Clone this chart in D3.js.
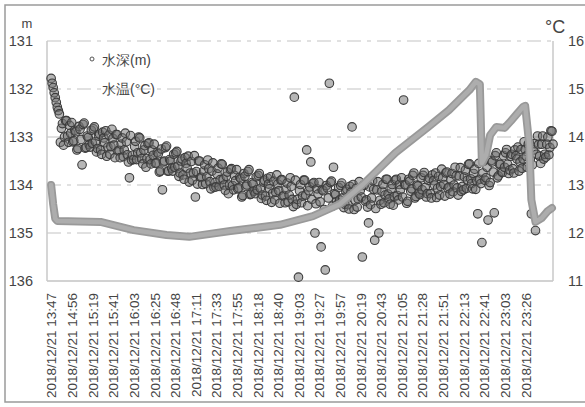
<!DOCTYPE html>
<html>
<head>
<meta charset="utf-8">
<script src="https://cdn.jsdelivr.net/npm/d3@7"></script>
<style>
  body { margin: 0; background: #fff; }
  text { font-family: "Liberation Sans", Arial, sans-serif; fill: #444; }
</style>
</head>
<body>
<svg id="chart" width="585" height="407"></svg>
<script>
"use strict";

// category labels (every 20th sample)
const timeLabels = ["13:47", "14:56", "15:19", "15:41", "16:03", "16:25", "16:48", "17:11",
  "17:33", "17:55", "18:18", "18:40", "19:03", "19:27", "19:57", "20:19", "20:43", "21:05",
  "21:28", "21:51", "22:13", "22:41", "23:03", "23:26"];
const labelStep = 20;

const depthTicks = [131, 132, 133, 134, 135, 136];
const tempTicks = [11, 12, 13, 14, 15, 16];

// water depth (m), even samples
const depthA = [
  131.78, 131.97, 132.18, 132.38, 132.52, 132.82, 133.17, 132.66, 132.98, 132.76,
  132.70, 133.08, 132.89, 133.24, 132.84, 133.58, 132.71, 133.22, 133.01, 133.21,
  133.13, 132.79, 133.31, 132.98, 133.27, 132.90, 133.12, 133.40, 132.96, 133.20,
  133.03, 133.43, 132.95, 133.28, 133.15, 133.41, 132.92, 133.37, 133.85, 133.48,
  133.47, 133.09, 133.33, 133.02, 133.45, 133.27, 133.63, 133.14, 133.47, 133.27,
  133.15, 133.54, 133.35, 133.71, 134.10, 133.50, 133.19, 133.71, 133.50, 133.71,
  133.63, 133.30, 133.82, 133.50, 133.79, 133.43, 133.65, 133.94, 133.51, 133.75,
  134.25, 133.98, 133.50, 133.84, 133.71, 133.97, 133.48, 133.93, 133.71, 134.05,
  134.04, 133.65, 133.89, 133.57, 134.00, 133.82, 134.18, 133.68, 134.01, 133.80,
  133.68, 134.06, 133.87, 134.22, 133.82, 134.00, 133.68, 134.19, 133.98, 134.18,
  134.10, 133.76, 134.28, 133.94, 134.23, 133.86, 134.08, 134.36, 133.92, 134.15,
  133.98, 134.38, 133.89, 134.22, 134.09, 134.35, 133.85, 134.30, 132.17, 134.40,
  135.92, 133.99, 134.23, 133.90, 133.27, 134.12, 133.52, 133.97, 135.00, 134.08,
  133.95, 135.29, 134.12, 135.77, 134.06, 131.88, 133.92, 133.63, 134.20, 134.40,
  134.31, 133.96, 134.47, 134.13, 134.41, 134.03, 132.79, 134.51, 134.07, 134.29,
  134.11, 135.50, 134.00, 134.31, 134.79, 134.41, 133.91, 135.15, 134.10, 135.00,
  134.40, 133.99, 134.21, 133.88, 134.29, 134.08, 134.42, 133.90, 134.22, 133.99,
  133.85, 132.23, 134.00, 134.34, 133.92, 134.08, 133.75, 134.24, 134.02, 134.20,
  134.10, 133.74, 134.25, 133.90, 134.18, 133.79, 134.00, 134.26, 133.82, 134.03,
  133.85, 134.23, 133.73, 134.04, 133.89, 134.14, 133.63, 134.06, 133.81, 134.13,
  134.10, 133.69, 133.90, 133.56, 133.97, 133.76, 134.09, 134.60, 133.88, 135.20,
  133.50, 133.85, 134.73, 133.95, 133.52, 134.58, 133.33, 133.81, 133.57, 133.74,
  133.63, 133.26, 133.76, 133.40, 133.66, 133.27, 133.46, 133.71, 133.26, 133.46,
  133.26, 133.63, 133.12, 134.60, 133.27, 134.95, 132.98, 133.40, 133.15, 133.46,
  133.42, 133.00, 133.22, 132.88
];

// water depth (m), odd samples
const depthB = [
  131.88, 132.08, 132.28, 132.45, 133.11, 132.72, 133.00, 132.66, 133.11, 132.92,
  133.10, 132.86, 133.27, 132.78, 133.05, 132.74, 133.23, 132.98, 133.16, 132.86,
  132.83, 133.10, 133.24, 132.94, 133.36, 133.02, 132.87, 133.21, 133.36, 132.84,
  133.17, 132.95, 133.29, 133.43, 133.02, 133.27, 133.10, 133.52, 132.97, 133.38,
  133.20, 133.47, 133.00, 133.33, 133.56, 133.18, 133.45, 133.12, 133.56, 133.38,
  133.55, 133.32, 133.73, 133.25, 133.52, 133.22, 133.71, 133.47, 133.65, 133.36,
  133.33, 133.61, 133.75, 133.46, 133.88, 133.55, 133.40, 133.75, 133.90, 133.39,
  133.72, 133.50, 133.84, 133.99, 133.58, 133.83, 133.66, 134.08, 133.54, 133.95,
  133.77, 134.03, 133.56, 133.88, 134.11, 133.73, 134.00, 133.66, 134.10, 133.91,
  134.08, 133.84, 134.25, 133.76, 134.03, 133.72, 134.20, 133.95, 134.13, 133.83,
  133.80, 134.07, 134.21, 133.90, 134.32, 133.98, 133.83, 134.17, 134.31, 133.79,
  134.12, 133.90, 134.23, 134.37, 133.96, 134.21, 134.03, 134.45, 133.90, 134.30,
  134.12, 134.37, 133.90, 134.21, 134.43, 134.04, 134.30, 133.95, 134.39, 134.19,
  134.35, 134.10, 134.51, 134.01, 134.27, 133.95, 134.44, 134.18, 134.35, 134.05,
  134.01, 134.27, 134.40, 134.09, 134.50, 134.15, 133.99, 134.32, 134.46, 133.93,
  134.25, 134.01, 134.34, 134.46, 134.04, 134.27, 134.09, 134.49, 133.93, 134.32,
  134.13, 134.37, 133.88, 134.19, 134.40, 133.99, 134.24, 133.88, 134.31, 134.10,
  134.25, 133.99, 134.38, 133.88, 134.13, 133.80, 134.27, 134.00, 134.17, 133.85,
  133.80, 134.05, 134.18, 133.86, 134.27, 133.91, 133.75, 134.07, 134.21, 133.67,
  133.99, 133.75, 134.07, 134.19, 133.76, 134.00, 133.81, 134.21, 133.64, 134.03,
  133.83, 134.07, 133.57, 133.87, 134.08, 133.67, 133.91, 133.55, 133.97, 133.75,
  133.90, 133.63, 134.01, 133.49, 133.73, 133.39, 133.85, 133.57, 133.72, 133.39,
  133.33, 133.57, 133.69, 133.36, 133.75, 133.39, 133.21, 133.52, 133.65, 133.10,
  133.40, 133.15, 133.46, 133.58, 133.14, 133.36, 133.16, 133.55, 132.98, 133.36,
  133.15, 133.37, 132.87, 133.15
];

// water temperature (°C) at sample indices
const tempIdx = [0, 2, 4, 6, 48, 80, 112, 134, 174, 222, 254, 280, 302, 334, 366, 386, 406,
  412, 416, 418, 422, 426, 432, 440, 446, 452, 458, 460, 464, 466, 470, 476, 482, 486];
const tempVals = [13.0, 12.6, 12.3, 12.25, 12.23, 12.06, 11.96, 11.92, 12.04, 12.17, 12.35,
  12.6, 13.0, 13.67, 14.21, 14.56, 14.98, 15.15, 15.1, 13.46, 13.62, 14.04, 14.21, 14.19,
  14.33, 14.48, 14.63, 14.65, 13.83, 12.69, 12.23, 12.31, 12.46, 12.52];

(function()
{
  const svg = d3.select("#chart");
  const plotL = 47, plotR = 553, plotT = 41, plotB = 281;

  //samples alternate between the two depth lists
  const depthVals = depthA.flatMap((d, i) => [d, depthB[i]]);

  // scanned frame
  svg.append("rect")
    .attr("x", 5).attr("y", 5).attr("width", 600).attr("height", 397)
    .attr("fill", "none").attr("stroke", "#9a9a9a").attr("stroke-width", 1.5);

  const x = d3.scaleLinear().domain([-4, depthVals.length - 1]).range([plotL, plotR]);
  const yDepth = d3.scaleLinear().domain([131, 136]).range([plotT, plotB]);
  const yTemp = d3.scaleLinear().domain([11, 16]).range([plotB, plotT]);

  //gridlines
  svg.append("g")
    .selectAll("line")
    .data(depthTicks.slice(0, -1))
    .join("line")
    .attr("x1", plotL).attr("x2", plotR)
    .attr("y1", d => yDepth(d)).attr("y2", d => yDepth(d))
    .attr("stroke", "#c4c4c4").attr("stroke-width", 1.2)
    .attr("stroke-dasharray", "14,6,4,6");

  svg.append("line")
    .attr("x1", plotL).attr("x2", plotR).attr("y1", plotB).attr("y2", plotB)
    .attr("stroke", "#d2d2d2").attr("stroke-width", 2);
  svg.append("line")
    .attr("x1", plotL).attr("x2", plotL).attr("y1", plotT).attr("y2", plotB)
    .attr("stroke", "#c8c8c8").attr("stroke-width", 1.5);
  svg.append("line")
    .attr("x1", plotR).attr("x2", plotR).attr("y1", plotT).attr("y2", plotB)
    .attr("stroke", "#c8c8c8").attr("stroke-width", 1.5);

  //axes
  const axL = svg.append("g")
    .attr("transform", `translate(${plotL},0)`)
    .call(d3.axisLeft(yDepth).tickValues(depthTicks).tickSize(0).tickPadding(14)
      .tickFormat(d3.format("d")));
  const axR = svg.append("g")
    .attr("transform", `translate(${plotR},0)`)
    .call(d3.axisRight(yTemp).tickValues(tempTicks).tickSize(0).tickPadding(15)
      .tickFormat(d3.format("d")));
  for (let ax of [axL, axR])
  {
    ax.select(".domain").remove();
    ax.selectAll("text").attr("font-size", 14.5).attr("fill", "#444")
      .attr("font-family", "Liberation Sans, Arial, sans-serif");
  }

  const labelIdx = timeLabels.map((d, i) => i * labelStep);
  const axB = svg.append("g")
    .attr("transform", `translate(0,${plotB})`)
    .call(d3.axisBottom(x).tickValues(labelIdx).tickSize(0)
      .tickFormat((d, i) => "2018/12/21 " + timeLabels[i]));
  axB.select(".domain").remove();
  axB.selectAll("text")
    .attr("font-size", 13.5).attr("fill", "#444")
    .attr("font-family", "Liberation Sans, Arial, sans-serif")
    .attr("text-anchor", "end")
    .attr("transform", "rotate(-90)")
    .attr("x", -12).attr("y", 0).attr("dy", "0.36em");

  //units
  svg.append("text").attr("x", 27).attr("y", 28).attr("text-anchor", "middle")
    .attr("font-size", 13).text("m");
  svg.append("text").attr("x", 545).attr("y", 33)
    .attr("font-size", 18).text("°C");

  //depth scatter
  svg.append("g")
    .selectAll("circle")
    .data(depthVals)
    .join("circle")
    .attr("cx", (d, i) => x(i))
    .attr("cy", d => yDepth(d))
    .attr("r", 4.3)
    .attr("fill", "#6e6e6e").attr("fill-opacity", 0.5)
    .attr("stroke", "#3c3c3c").attr("stroke-width", 1.1);

  //temperature band
  const tempPts = tempIdx.map((d, i) => [x(d), yTemp(tempVals[i])]);
  const path_func = d3.line();
  svg.append("path")
    .attr("d", path_func(tempPts))
    .attr("fill", "none").attr("stroke", "#999").attr("stroke-width", 8)
    .attr("stroke-linejoin", "round").attr("stroke-linecap", "round");
  svg.append("path")
    .attr("d", path_func(tempPts))
    .attr("fill", "none").attr("stroke", "#adadad").attr("stroke-width", 4.5)
    .attr("stroke-linejoin", "round").attr("stroke-linecap", "round");

  //legend
  const legend = svg.append("g").attr("font-size", 14);
  legend.append("circle").attr("cx", 92).attr("cy", 59).attr("r", 2)
    .attr("fill", "none").attr("stroke", "#555");
  legend.append("text").attr("x", 102).attr("y", 60).attr("dy", "0.35em")
    .attr("font-family", "Noto Sans CJK JP, sans-serif").text("水深(m)");
  legend.append("text").attr("x", 102).attr("y", 89).attr("dy", "0.35em")
    .attr("font-family", "Noto Sans CJK JP, sans-serif").text("水温(°C)");
})();
</script>
</body>
</html>
